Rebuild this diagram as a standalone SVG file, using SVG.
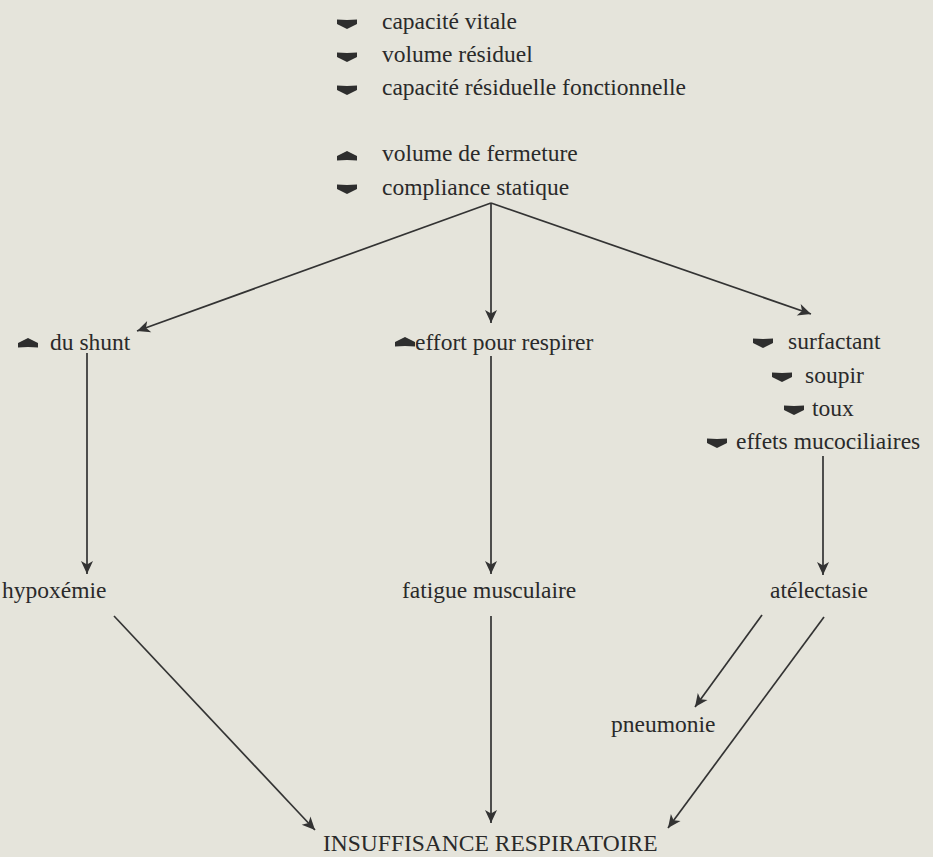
<svg xmlns="http://www.w3.org/2000/svg" xmlns:xlink="http://www.w3.org/1999/xlink" width="933" height="857" viewBox="0 0 933 857">
<style>
  text { font-family: "Liberation Serif", Tinos, "DejaVu Serif", serif; font-size: 23.5px; fill: #2a2a2a; }
  .ln { stroke: #333; stroke-width: 1.7; fill: none; }
  .sym { fill: #2e2e2e; }
</style>
<defs>
  <marker id="ah" markerUnits="userSpaceOnUse" markerWidth="16" markerHeight="14" viewBox="-1 -7 16 14" refX="13" refY="0" orient="auto">
    <path d="M0,-6 L13,0 L0,6 L3.5,0 Z" fill="#333"/>
  </marker>
  <path id="dn" class="sym" d="M-10,-4.5 L0,-4 L10,-4.5 L10,0 L0,5 L-10,0 Z"/>
  <path id="up" class="sym" d="M-10,4.5 L0,4 L10,4.5 L10,0 L0,-5 L-10,0 Z"/>
</defs>
<rect width="933" height="857" fill="#e5e4db"/>

<g id="params">
  <use xlink:href="#dn" x="347" y="24"/>
  <text x="382" y="29">capacité vitale</text>
  <use xlink:href="#dn" x="347" y="57"/>
  <text x="382" y="62">volume résiduel</text>
  <use xlink:href="#dn" x="347" y="90"/>
  <text x="382" y="95">capacité résiduelle fonctionnelle</text>
  <use xlink:href="#up" x="347" y="156"/>
  <text x="382" y="161">volume de fermeture</text>
  <use xlink:href="#dn" x="347" y="189"/>
  <text x="382" y="195">compliance statique</text>
</g>

<g id="shunt">
  <use xlink:href="#up" x="28" y="343"/>
  <text x="50" y="350">du shunt</text>
</g>

<g id="effort">
  <use xlink:href="#up" x="405" y="342"/>
  <text x="415" y="350">effort pour respirer</text>
</g>

<g id="surfactant">
  <use xlink:href="#dn" x="763" y="343"/>
  <text x="788" y="349">surfactant</text>
  <use xlink:href="#dn" x="782" y="377"/>
  <text x="805" y="383">soupir</text>
  <use xlink:href="#dn" x="794" y="410"/>
  <text x="812" y="416">toux</text>
  <use xlink:href="#dn" x="717" y="443"/>
  <text x="736" y="449">effets mucociliaires</text>
</g>

<g id="hypoxemie">
  <text x="2" y="598">hypoxémie</text>
</g>
<g id="fatigue">
  <text x="402" y="598">fatigue musculaire</text>
</g>
<g id="atelectasie">
  <text x="770" y="598">atélectasie</text>
</g>
<g id="pneumonie">
  <text x="611" y="732">pneumonie</text>
</g>
<g id="insuffisance">
  <text x="323" y="851">INSUFFISANCE RESPIRATOIRE</text>
</g>

<g id="connectors">
  <line class="ln" x1="491" y1="203" x2="137" y2="331" marker-end="url(#ah)"/>
  <line class="ln" x1="491" y1="203" x2="491" y2="323" marker-end="url(#ah)"/>
  <line class="ln" x1="491" y1="203" x2="811" y2="314" marker-end="url(#ah)"/>
  <line class="ln" x1="87" y1="353" x2="87" y2="574" marker-end="url(#ah)"/>
  <line class="ln" x1="491" y1="356" x2="491" y2="574" marker-end="url(#ah)"/>
  <line class="ln" x1="823" y1="456" x2="823" y2="575" marker-end="url(#ah)"/>
  <line class="ln" x1="114" y1="616" x2="315" y2="830" marker-end="url(#ah)"/>
  <line class="ln" x1="491" y1="616" x2="491" y2="823" marker-end="url(#ah)"/>
  <line class="ln" x1="762" y1="615" x2="695" y2="707" marker-end="url(#ah)"/>
  <line class="ln" x1="824" y1="617" x2="668" y2="828" marker-end="url(#ah)"/>
</g>
</svg>
